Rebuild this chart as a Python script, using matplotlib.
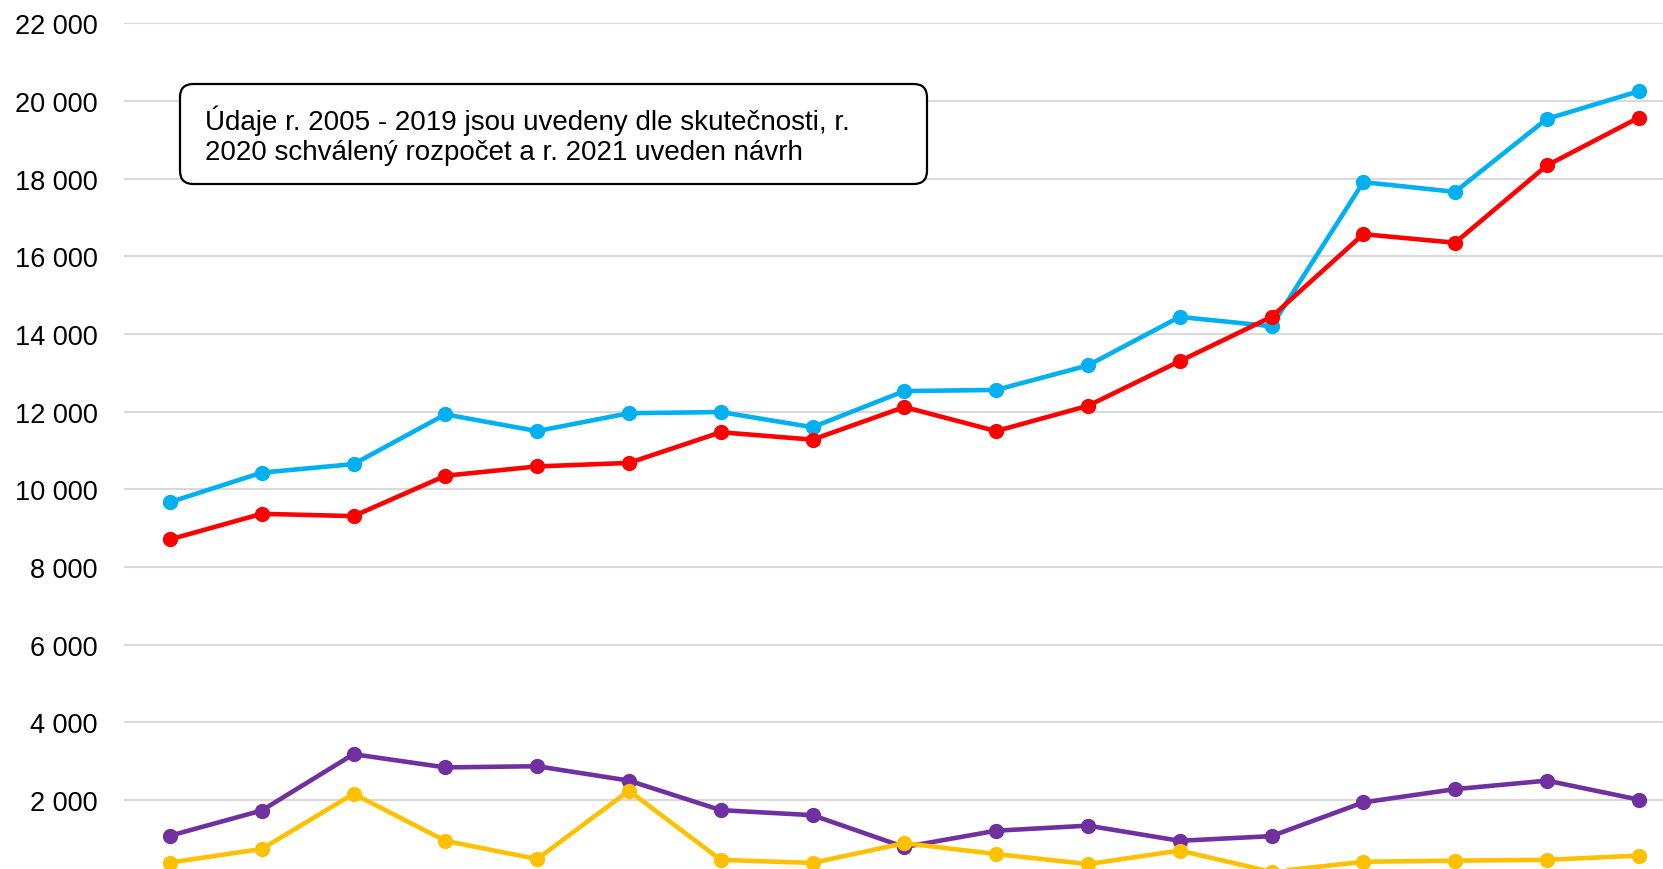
import numpy as np
import matplotlib.pyplot as plt
from matplotlib.ticker import FuncFormatter
from matplotlib.patches import FancyBboxPatch

plt.rcParams['font.family'] = ['Liberation Sans', 'DejaVu Sans']

# Daten (Jahre 2005 - 2021)
years = [str(y) for y in range(2005, 2022)]
blue = [9670, 10430, 10650, 11930, 11500, 11960, 11990, 11600, 12530, 12560,
        13190, 14440, 14200, 17910, 17660, 19540, 20250]
red = [8710, 9370, 9310, 10350, 10590, 10680, 11470, 11280, 12120, 11500,
       12150, 13300, 14440, 16570, 16350, 18340, 19570]
purple = [1080, 1730, 3180, 2840, 2870, 2500, 1740, 1610, 790, 1210,
          1340, 950, 1070, 1940, 2280, 2500, 2010]
yellow = [390, 740, 2160, 950, 480, 2240, 460, 380, 890, 610,
          350, 700, 150, 410, 440, 460, 570]

series = [(blue, '#00B0F0'), (red, '#FF0000'), (purple, '#7030A0'), (yellow, '#FFC000')]

fig = plt.figure(figsize=(16.63, 8.70), dpi=100)
# Achse reicht unten/rechts etwas ueber das Bild hinaus (wie im Original abgeschnitten)
ax = fig.add_axes([124 / 1663, -8.7 / 870, 1560.6 / 1663, 854.4 / 870])

x = np.arange(len(years))
for vals, col in series:
    ax.plot(x, vals, color=col, lw=3.3, marker='o', ms=10, zorder=3)

ax.set_xlim(-0.5, len(years) - 0.5)
ax.set_ylim(0, 22000)
ax.set_yticks(np.arange(0, 22001, 2000))
ax.yaxis.set_major_formatter(FuncFormatter(lambda v, p: f'{int(v):,}'.replace(',', ' ')))
ax.tick_params(axis='y', length=0, pad=19, labelsize=19.5)
ax.set_xticks([])
ax.grid(axis='y', color='#D9D9D9', lw=1.5)
ax.set_axisbelow(True)
for s in ax.spines.values():
    s.set_visible(False)

# Hinweisbox
fig.text(205 / 1663, 1 - 136 / 870,
         'Údaje r. 2005 - 2019 jsou uvedeny dle skutečnosti, r.\n'
         '2020 schválený rozpočet a r. 2021 uveden návrh',
         fontsize=20, va='center', ha='left', linespacing=1.2)
box = FancyBboxPatch((180 / 1663, 1 - 185 / 870), 747 / 1663, 100 / 870,
                     boxstyle='round,pad=0,rounding_size=0.008',
                     mutation_aspect=1663 / 870,
                     transform=fig.transFigure, facecolor='white',
                     edgecolor='black', lw=1.6, zorder=0)
fig.patches.append(box)

fig.savefig('out.png', dpi=100)
